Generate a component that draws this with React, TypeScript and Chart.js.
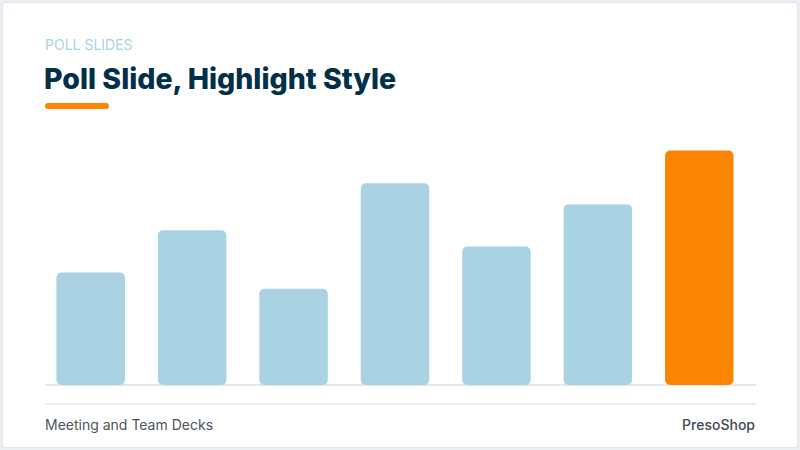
import { useEffect, useRef } from "react";
import { Chart, registerables } from "chart.js";

Chart.register(...registerables);

const categories = ["Option 1", "Option 2", "Option 3", "Option 4", "Option 5", "Option 6", "Option 7"];
const votes = [24, 33, 20.5, 43, 29.5, 38.5, 50];
const highlightIndex = 6;

const BLUE = "#a9d2e3";
const ORANGE = "#fb8500";
const NAVY = "#023047";

function PollChart() {
  const ref = useRef<HTMLCanvasElement | null>(null);

  useEffect(() => {
    if (!ref.current) return;
    const chart = new Chart(ref.current, {
      type: "bar",
      data: {
        labels: categories,
        datasets: [
          {
            label: "Votes",
            data: votes,
            backgroundColor: votes.map((_, i) => (i === highlightIndex ? ORANGE : BLUE)),
            borderRadius: 5,
            borderSkipped: false,
            barPercentage: 0.675,
            categoryPercentage: 1,
          },
        ],
      },
      options: {
        animation: false,
        responsive: true,
        maintainAspectRatio: false,
        layout: { padding: 0 },
        plugins: { legend: { display: false }, tooltip: { enabled: false } },
        scales: {
          x: { display: false },
          y: { display: false, min: 0, max: 55 },
        },
      },
    });
    return () => chart.destroy();
  }, []);

  return <canvas ref={ref}></canvas>;
}

export default function App() {
  const font = "Inter, 'Noto Sans', sans-serif";
  return (
    <div
      style={{
        position: "fixed",
        inset: 0,
        width: 800,
        height: 450,
        background: "#eaeff3",
        fontFamily: font,
      }}
    >
      <div
        style={{
          position: "absolute",
          left: 2,
          top: 2,
          width: 794,
          height: 444,
          background: "#ffffff",
          border: "1px solid #dfe5ea",
          borderRadius: 3,
        }}
      />
      <div
        style={{
          position: "absolute",
          left: 45,
          top: 36,
          fontSize: 14,
          fontWeight: 400,
          color: "#a9d3e3",
          lineHeight: "18px",
        }}
      >
        POLL SLIDES
      </div>
      <div
        style={{
          position: "absolute",
          left: 44,
          top: 63,
          fontSize: 28.5,
          fontWeight: 800,
          color: NAVY,
          lineHeight: "32px",
          whiteSpace: "nowrap",
        }}
      >
        Poll Slide, Highlight Style
      </div>
      <div
        style={{
          position: "absolute",
          left: 45,
          top: 103,
          width: 64,
          height: 6,
          borderRadius: 3,
          background: ORANGE,
        }}
      />
      <div style={{ position: "absolute", left: 45, top: 384, width: 711, height: 2, background: "#e3e7ea" }} />
      <div style={{ position: "absolute", left: 45, top: 403, width: 711, height: 2, background: "#eaedf0" }} />
      <div style={{ position: "absolute", left: 40, top: 127, width: 710, height: 258 }}>
        <PollChart />
      </div>
      <div
        style={{
          position: "absolute",
          left: 45,
          top: 416,
          fontSize: 14,
          color: "#4a5560",
          lineHeight: "18px",
        }}
      >
        Meeting and Team Decks
      </div>
      <div
        style={{
          position: "absolute",
          right: 45,
          top: 416,
          fontSize: 14,
          fontWeight: 500,
          color: "#3f4852",
          lineHeight: "18px",
        }}
      >
        PresoShop
      </div>
    </div>
  );
}
